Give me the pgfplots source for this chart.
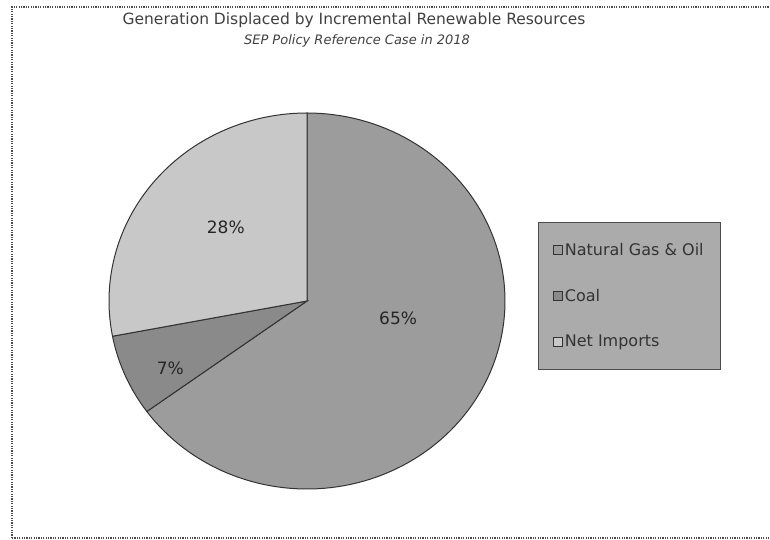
\documentclass[border=0pt]{standalone}
\usepackage{pgfplots}
\pgfplotsset{compat=1.18}
\usepackage{fontspec}
\setmainfont{DejaVu Sans}
\definecolor{cgas}{HTML}{9C9C9C}
\definecolor{ccoal}{HTML}{8A8A8A}
\definecolor{cimp}{HTML}{C8C8C8}
\definecolor{clegend}{HTML}{ABABAB}
% shares in percent
\def\vGas{65}
\def\vCoal{7}
\def\vImp{28}
\begin{document}
\begin{tikzpicture}[x=1pt,y=1pt]
\useasboundingbox (0,0) rectangle (770,540);
\draw[gray!60!black, line width=1.6pt, dash pattern=on 1.2pt off 1.2pt] (12,2) rectangle (780,533);
\node[font=\fontsize{15.5}{18}\selectfont, text=black!75] at (354,520) {Generation Displaced by Incremental Renewable Resources};
\node[font=\fontsize{13}{15}\selectfont\itshape, text=black!75] at (357,499) {SEP Policy Reference Case in 2018};
\begin{axis}[
  at={(109pt,51pt)}, anchor=south west,
  scale only axis, width=396pt, height=376pt,
  xmin=-1, xmax=1, ymin=-1, ymax=1,
  hide axis, clip=false,
  legend style={at={(1.083,0.710)}, anchor=north west, fill=clegend, draw=black!70, line width=0.8pt,
    font=\fontsize{16}{18}\selectfont, row sep=28pt, inner xsep=15pt, inner ysep=19pt,
    text=black!80},
  legend cell align=left,
  legend image code/.code={\filldraw[#1, line width=0.6pt] (0pt,-4.5pt) rectangle (9pt,4.5pt);},
]
\addplot[fill=cgas, draw=black!80, line width=1pt, domain={90-3.6*\vGas}:90, samples=120, variable=\t]
  ({cos(\t)},{sin(\t)}) -- (axis cs:0,0) -- cycle;
\addlegendentry{Natural Gas \& Oil}
\addplot[fill=ccoal, draw=black!80, line width=1pt, domain={90-3.6*(\vGas+\vCoal)}:{90-3.6*\vGas}, samples=30, variable=\t]
  ({cos(\t)},{sin(\t)}) -- (axis cs:0,0) -- cycle;
\addlegendentry{Coal}
\addplot[fill=cimp, draw=black!80, line width=1pt, domain={90-3.6*(\vGas+\vCoal+\vImp)}:{90-3.6*(\vGas+\vCoal)}, samples=80, variable=\t]
  ({cos(\t)},{sin(\t)}) -- (axis cs:0,0) -- cycle;
\addlegendentry{Net Imports}
\node[font=\fontsize{17}{20}\selectfont, text=black!85] at (axis cs:-0.41,0.39) {28\%};
\node[font=\fontsize{17}{20}\selectfont, text=black!85] at (axis cs:0.46,-0.09) {65\%};
\node[font=\fontsize{17}{20}\selectfont, text=black!85] at (axis cs:-0.69,-0.36) {7\%};
\end{axis}
\end{tikzpicture}
\end{document}
